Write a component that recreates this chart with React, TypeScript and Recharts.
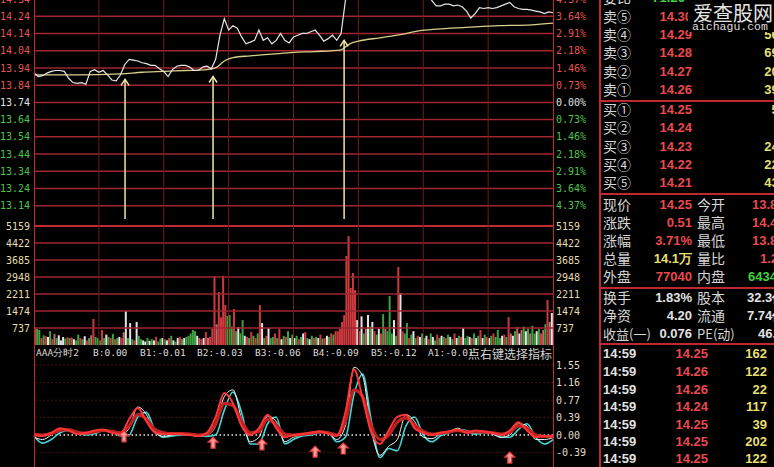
import React from "react";
import { LineChart, Line, BarChart, Bar, Cell, XAxis, YAxis, ReferenceLine, ReferenceDot } from "recharts";

const W = 774;
const H = 467;
const CW = 598; // plot 34 -> 553, right axis 553 -> 598

// ---- 分时价格 (每2分钟一个点, 0..240分钟)
const priceValues = [
  13.91, 13.89, 13.895, 13.91, 13.92, 13.925, 13.925, 13.92, 13.88, 13.855,
  13.85, 13.855, 13.845, 13.92, 13.93, 13.915, 13.925, 13.9, 13.87, 13.865,
  13.9, 13.96, 13.99, 13.985, 13.98, 13.97, 13.965, 13.955, 13.955, 13.935,
  13.92, 13.89, 13.93, 13.95, 13.955, 13.955, 13.945, 13.925, 13.925, 13.945,
  13.95, 13.935, 13.99, 14.13, 14.225, 14.16, 14.185, 14.17, 14.12, 14.08,
  14.09, 14.1, 14.16, 14.1, 14.115, 14.08, 14.1, 14.14, 14.1, 14.085,
  14.12, 14.13, 14.14, 14.14, 14.15, 14.16, 14.13, 14.095, 14.11, 14.13,
  14.1, 14.14, 14.33, 14.45, 14.48, 14.46, 14.5, 14.47, 14.44, 14.46,
  14.45, 14.42, 14.44, 14.43, 14.4, 14.42, 14.41, 14.43, 14.4, 14.39,
  14.38, 14.37, 14.33, 14.3, 14.3, 14.31, 14.31, 14.3, 14.305, 14.295,
  14.27, 14.23, 14.255, 14.29, 14.285, 14.29, 14.285, 14.29, 14.3, 14.31,
  14.32, 14.295, 14.285, 14.28, 14.28, 14.275, 14.27, 14.265, 14.255, 14.265,
  14.26,
];

// ---- 均价线
const avgMinutes = [0, 20, 40, 50, 60, 70, 80, 84, 88, 92, 100, 110, 120, 130, 142, 146, 150, 160, 170, 178, 186, 200, 215, 230, 240];
const avgValues = [13.9, 13.9, 13.905, 13.915, 13.92, 13.925, 13.93, 13.94, 13.98, 14.0, 14.01, 14.02, 14.03, 14.035, 14.045, 14.08, 14.095, 14.115, 14.135, 14.155, 14.165, 14.175, 14.185, 14.19, 14.2];

// ---- 黄色箭头
const arrowMinutes = [42.1, 82.8, 143.4];
const arrowTips = [13.874, 13.89, 14.1];
const arrowBase = 13.063;

const priceTicks = [14.34, 14.24, 14.14, 14.04, 13.94, 13.84, 13.74, 13.64, 13.54, 13.44, 13.34, 13.24, 13.14];
const pctLabels = ["4.37%", "3.64%", "2.91%", "2.18%", "1.46%", "0.73%", "0.00%", "0.73%", "1.46%", "2.18%", "2.91%", "3.64%", "4.37%"];
const prevClose = 13.74;
const gridMinutes = [30, 60, 90, 120, 150, 180, 210];

// ---- 成交量 (每分钟)
const volValues = [
  780, 700, 650, 300, 420, 380, 350, 600, 250, 480,
  300, 420, 200, 350, 280, 330, 300, 320, 250, 200,
  450, 300, 250, 380, 200, 300, 420, 1130, 350, 300,
  200, 650, 300, 450, 350, 300, 480, 250, 300, 350,
  300, 550, 1470, 300, 950, 250, 200, 1000, 400, 250,
  200, 150, 300, 180, 250, 200, 350, 150, 280, 300,
  250, 200, 300, 400, 200, 150, 300, 350, 250, 300,
  350, 400, 500, 650, 600, 400, 300, 250, 300, 560,
  300, 350, 700, 2990, 900, 2300, 1200, 3000, 1730, 1260,
  1300, 800, 1560, 600, 780, 500, 1080, 400, 350, 300,
  560, 400, 300, 500, 1730, 950, 300, 400, 740, 300,
  350, 500, 300, 700, 250, 400, 350, 600, 300, 450,
  300, 400, 250, 350, 500, 560, 300, 250, 400, 300,
  350, 300, 450, 280, 300, 400, 350, 500, 450, 600,
  600, 700, 1000, 1300, 3860, 4720, 2470, 3120, 2380, 1080,
  600, 1240, 500, 700, 1300, 800, 1000, 600, 450, 700,
  500, 1340, 700, 600, 2120, 500, 1080, 400, 3380, 2250,
  600, 500, 950, 300, 450, 600, 300, 400, 350, 500,
  300, 400, 250, 500, 350, 200, 450, 300, 400, 350,
  300, 450, 350, 250, 500, 300, 400, 350, 740, 300,
  400, 350, 300, 500, 300, 400, 650, 300, 450, 350,
  300, 400, 500, 350, 650, 300, 400, 450, 350, 1210,
  500, 400, 600, 780, 500, 650, 800, 600, 700, 500,
  830, 500, 600, 700, 500, 650, 900, 1950, 1000, 1390,
];
const volColors =
  "rggrgrwgrp" + "gwwwgrgrwg" + "grgwrgprgg" + "grgwgrgrgw" + "rpwgwgrwgg" + "wwgwgwrggw" +
  "gwrgwgwrgw" + "gggggwprwr" + "prrrprrrrg" + "ggrgwggwrg" + "rgrgrwgrwg" + "grgrwgrgwg" +
  "wgrgwrgwgr" + "gwrgrwgrgr" + "rrrrrrrrrw" + "rwgpwgwrgw" + "rgpgggwgrw" + "rggrgwgrwg" +
  "gwrgwgrgwg" + "rgwgrwgrwg" + "gwrgwgrwgr" + "wgrgggwrgr" + "pwgpwpgwgp" + "ggwgrpgrpw";
const volTicks = [5159, 4422, 3685, 2948, 2211, 1474, 737];

// ---- 指标 AAA分时2 (每4分钟)
const indRed = [
  0.0, -0.02, 0.05, 0.15, 0.1, 0.02, 0.05, 0.1, 0.12, 0.05,
  0.02, 0.35, 0.6, 0.3, 0.05, 0.02, 0.03, 0.02, 0.0, -0.02,
  0.05, 0.4, 0.93, 0.7, 0.2, 0.0, 0.15, 0.45, 0.15, -0.05,
  0.0, 0.02, 0.05, 0.08, 0.03, -0.02, 0.5, 1.45, 0.8, 0.05,
  -0.2, 0.1, 0.4, 0.45, 0.15, 0.05, 0.0, 0.05, 0.08, 0.12,
  0.05, 0.1, 0.08, 0.05, 0.0, 0.1, 0.28, 0.1, -0.05, -0.02,
  -0.03,
];
const indRed2 = [
  0.02, 0.0, 0.03, 0.1, 0.12, 0.06, 0.04, 0.07, 0.1, 0.08,
  0.05, 0.2, 0.45, 0.35, 0.12, 0.05, 0.03, 0.03, 0.02, 0.0,
  0.02, 0.25, 0.7, 0.65, 0.3, 0.05, 0.08, 0.35, 0.22, 0.02,
  0.0, 0.02, 0.04, 0.07, 0.05, 0.0, 0.3, 1.0, 0.85, 0.2,
  -0.1, 0.0, 0.28, 0.38, 0.22, 0.08, 0.02, 0.04, 0.07, 0.1,
  0.07, 0.07, 0.07, 0.05, 0.02, 0.06, 0.2, 0.15, 0.0, -0.03,
  -0.03,
];
const indWhite = [
  -0.05, -0.1, 0.0, 0.12, 0.13, 0.03, 0.02, 0.08, 0.12, 0.08,
  0.0, 0.15, 0.62, 0.45, 0.05, -0.03, 0.0, 0.02, 0.0, -0.03,
  0.0, 0.2, 0.85, 1.0, 0.35, -0.15, -0.05, 0.42, 0.3, -0.15,
  -0.05, 0.0, 0.03, 0.08, 0.05, -0.1, 0.2, 1.5, 1.3, 0.1,
  -0.45, -0.25, -0.1, 0.45, 0.3, -0.05, -0.08, 0.02, 0.08, 0.15,
  0.05, 0.05, 0.06, 0.02, -0.05, 0.0, 0.25, 0.2, -0.1, -0.1,
  -0.06,
];
const indCyan = [
  -0.02, -0.18, -0.1, 0.05, 0.1, 0.05, 0.0, 0.03, 0.1, 0.08,
  -0.02, 0.0, 0.4, 0.5, 0.1, -0.05, -0.02, 0.0, 0.0, -0.02,
  -0.03, 0.0, 0.55, 0.95, 0.5, -0.2, -0.2, 0.25, 0.4, -0.2,
  -0.1, -0.02, 0.0, 0.05, 0.06, -0.15, -0.05, 0.9, 1.35, 0.3,
  -0.5, -0.3, -0.35, 0.2, 0.4, 0.0, -0.15, -0.02, 0.05, 0.12,
  0.1, 0.02, 0.05, 0.03, -0.05, -0.05, 0.12, 0.25, -0.05, -0.2,
  -0.1,
];
const indTicks = [1.55, 1.16, 0.77, 0.39, 0, -0.39];
const indLabels = ["1.55", "1.16", "0.77", "0.39", "0.00", "-0.39"];
const sigMinutes = [41.6, 82.8, 105.4, 130, 143, 220];
const sigValues = [-0.04, -0.18, -0.22, -0.38, -0.31, -0.51];

const idxLabels = ["AAA分时2", "B:0.00", "B1:-0.01", "B2:-0.03", "B3:-0.06", "B4:-0.09", "B5:-0.12", "A1:-0.01"];
const idxLabelX = [36, 93, 140, 197, 255, 313, 371, 428];

// ---- 右侧盘口
const askLabels = ["卖⑤", "卖④", "卖③", "卖②", "卖①"];
const askPrices = ["14.30", "14.29", "14.28", "14.27", "14.26"];
const askVols = ["48", "563", "692", "201", "391"];
const askY = [17, 35, 53, 72, 90];
const bidLabels = ["买①", "买②", "买③", "买④", "买⑤"];
const bidPrices = ["14.25", "14.24", "14.23", "14.22", "14.21"];
const bidVols = ["52", "8", "245", "223", "431"];
const bidY = [110, 128, 147, 165, 183];

const q1Labels = ["现价", "涨跌", "涨幅", "总量", "外盘"];
const q1Values = ["14.25", "0.51", "3.71%", "14.1万", "77040"];
const q2Labels = ["今开", "最高", "最低", "量比", "内盘"];
const q2Values = ["13.87", "14.43", "13.83", "1.25", "6434"];
const q2X = [752, 752, 752, 760, 748];
const qY = [205, 223, 241, 259, 277];
const q3Labels = ["换手", "净资", "收益(一)"];
const q3Values = ["1.83%", "4.20", "0.076"];
const q4Labels = ["股本", "流通", "PE(动)"];
const q4Values = ["32.3亿", "7.74亿", "46.9"];
const q4X = [747, 747, 758];
const q3Y = [298, 316, 334];

const tradeTimes = ["14:59", "14:59", "14:59", "14:59", "14:59", "14:59", "14:59"];
const tradePrices = ["14.25", "14.26", "14.26", "14.24", "14.25", "14.25", "14.25"];
const tradeVols = ["162", "122", "22", "117", "39", "202", "122"];
const tradeY = [354, 372, 390, 407, 425, 442, 459];

const RED = "#ea4a4e";
const GREEN = "#3fd23f";
const YELLOW = "#e6df72";
const WHITE = "#e2e2e2";
const LABEL = "#d6d6d6";
const GRID = "#a02630";
const VGRID = "#6e1c1c";
const FRAME = "#c0282e";
const MONO = "DejaVu Sans Mono, monospace";
const NUM = "Liberation Sans, Arial, sans-serif";
const CJK = "Noto Sans CJK SC, sans-serif";

const priceRows = priceValues.map((p, i) => ({ t: i * 2, p }));
const avgRows = avgMinutes.map((t, i) => ({ t, p: avgValues[i] }));
const volRows = volValues.map((v, i) => ({ t: i + 0.5, v, c: volColors[i] }));
const indRows = indRed.map((a, i) => ({ t: i * 4, a, b: indRed2[i], w: indWhite[i], c: indCyan[i] }));
const barFill: Record<string, string> = { r: "#d03a3e", p: "#bc6a6c", g: "#3fa240", w: "#e4e4e4" };

const priceColor = (v: number) => (Math.abs(v - prevClose) < 0.005 ? WHITE : v > prevClose ? "#e35552" : "#4cc44c");

const priceTick = (side: "l" | "r") => (props: any) => {
  const { x, y, payload } = props;
  const v = payload.value as number;
  const label = side === "l" ? v.toFixed(2) : pctLabels[priceTicks.indexOf(v)];
  return (
    <text x={x} y={y} dy={3.6} textAnchor={side === "l" ? "end" : "start"} fill={priceColor(v)} fontSize={10} fontFamily={MONO}>
      {label}
    </text>
  );
};

const plainTick = (side: "l" | "r", color: string, labels?: string[], ticks?: number[]) => (props: any) => {
  const { x, y, payload } = props;
  const label = labels && ticks ? labels[ticks.indexOf(payload.value)] : String(payload.value);
  return (
    <text x={x} y={y} dy={3.6} textAnchor={side === "l" ? "end" : "start"} fill={color} fontSize={10} fontFamily={MONO}>
      {label}
    </text>
  );
};

const yellowHead = (props: any) => (
  <path d={`M${props.cx - 4},${props.cy + 6} L${props.cx},${props.cy} L${props.cx + 4},${props.cy + 6}`} stroke="#efe8aa" strokeWidth={1.5} fill="none" />
);

const upArrow = (props: any) => {
  const { cx, cy } = props;
  const d = `M${cx},${cy - 6} L${cx + 5},${cy - 1} L${cx + 2},${cy - 1} L${cx + 2},${cy + 5} L${cx - 2},${cy + 5} L${cx - 2},${cy - 1} L${cx - 5},${cy - 1} Z`;
  return <path d={d} fill="#f29a9a" stroke="#e23a3a" strokeWidth={1.2} />;
};

function Tx(props: { x: number; y: number; c?: string; s?: number; a?: "left" | "right"; f?: string; b?: boolean; children: React.ReactNode }) {
  const { x, y, c = LABEL, s = 13, a = "left", f = NUM, b = false, children } = props;
  const style: React.CSSProperties = {
    position: "absolute",
    top: y - s * 0.62,
    fontSize: s,
    lineHeight: `${Math.round(s * 1.24)}px`,
    color: c,
    fontFamily: f,
    fontWeight: b ? "bold" : "normal",
    whiteSpace: "nowrap",
  };
  if (a === "right") style.right = W - x;
  else style.left = x;
  return <div style={style}>{children}</div>;
}

const abs = (top: number, h: number): React.CSSProperties => ({ position: "absolute", left: 0, top, width: CW, height: h });

export default function App() {
  return (
    <div style={{ position: "fixed", left: 0, top: 0, width: W, height: H, background: "#000", overflow: "hidden" }}>
      {/* 分时图 */}
      <div style={abs(-1, 224)}>
        <LineChart width={CW} height={224} data={priceRows} margin={{ top: 0, right: 0, bottom: 0, left: 0 }}>
          <XAxis dataKey="t" type="number" domain={[0, 240]} hide />
          <YAxis yAxisId="l" orientation="left" width={34} domain={[13.04, 14.34]} ticks={priceTicks} interval={0} allowDataOverflow axisLine={false} tickLine={false} tickSize={0} tickMargin={4} tick={priceTick("l")} />
          <YAxis yAxisId="r" orientation="right" width={45} domain={[13.04, 14.34]} ticks={priceTicks} interval={0} allowDataOverflow axisLine={false} tickLine={false} tickSize={0} tickMargin={3} tick={priceTick("r")} />
          {priceTicks.slice(1).map((v) => (
            <ReferenceLine key={v} yAxisId="l" y={v} stroke={GRID} strokeWidth={1.5} />
          ))}
          {gridMinutes.map((m) => (
            <ReferenceLine key={m} yAxisId="l" x={m} stroke={VGRID} strokeWidth={1} />
          ))}
          <Line yAxisId="l" data={avgRows} dataKey="p" type="monotone" stroke="#d9cf8c" strokeWidth={1.3} dot={false} isAnimationActive={false} />
          <Line yAxisId="l" dataKey="p" type="linear" stroke="#e6e6e6" strokeWidth={1.2} dot={false} isAnimationActive={false} />
          {arrowMinutes.map((m, i) => (
            <ReferenceLine key={"a" + m} yAxisId="l" segment={[{ x: m, y: arrowBase }, { x: m, y: arrowTips[i] }]} stroke="#efe8aa" strokeWidth={1.5} ifOverflow="visible" />
          ))}
          {arrowMinutes.map((m, i) => (
            <ReferenceDot key={"h" + m} yAxisId="l" x={m} y={arrowTips[i]} shape={yellowHead} ifOverflow="visible" />
          ))}
        </LineChart>
      </div>

      {/* 成交量 */}
      <div style={abs(222, 123)}>
        <BarChart width={CW} height={123} data={volRows} margin={{ top: 0, right: 0, bottom: 0, left: 0 }}>
          <XAxis dataKey="t" type="number" domain={[0, 240]} hide />
          <YAxis yAxisId="l" orientation="left" width={34} domain={[0, 5332]} ticks={volTicks} interval={0} allowDataOverflow axisLine={false} tickLine={false} tickSize={0} tickMargin={4} tick={plainTick("l", "#e3dcae")} />
          <YAxis yAxisId="r" orientation="right" width={45} domain={[0, 5332]} ticks={volTicks} interval={0} allowDataOverflow axisLine={false} tickLine={false} tickSize={0} tickMargin={3} tick={plainTick("r", "#e3dcae")} />
          {volTicks.map((v, i) => (
            <ReferenceLine key={v} yAxisId="l" y={v} stroke={i === 0 ? "#c42a34" : GRID} strokeWidth={i === 0 ? 2.2 : 1.5} />
          ))}
          {gridMinutes.map((m) => (
            <ReferenceLine key={m} yAxisId="l" x={m} stroke={VGRID} strokeWidth={1} />
          ))}
          <Bar yAxisId="l" dataKey="v" barSize={2} isAnimationActive={false}>
            {volRows.map((r, i) => (
              <Cell key={i} fill={barFill[r.c]} />
            ))}
          </Bar>
        </BarChart>
      </div>

      {/* 指标标题行 */}
      {idxLabels.map((s, i) => (
        <Tx key={s} x={idxLabelX[i]} y={353} s={9.5} f={MONO} c="#dcdcdc">
          {s}
        </Tx>
      ))}
      <Tx x={468} y={353} s={12} f={CJK} c="#d4d4d4">
        点右键选择指标
      </Tx>

      {/* 指标 */}
      <div style={abs(358, 109)}>
        <LineChart width={CW} height={109} data={indRows} margin={{ top: 0, right: 0, bottom: 0, left: 34 }}>
          <XAxis dataKey="t" type="number" domain={[0, 240]} hide />
          <YAxis yAxisId="r" orientation="right" width={45} domain={[-0.708, 1.704]} ticks={indTicks} interval={0} allowDataOverflow axisLine={false} tickLine={false} tickSize={0} tickMargin={3} tick={plainTick("r", "#e2dcc4", indLabels, indTicks)} />
          {indTicks.map((v) => (
            <ReferenceLine key={v} yAxisId="r" y={v} stroke={v === 0 ? "#e8e8e8" : "#5c1616"} strokeWidth={v === 0 ? 1.5 : 1} strokeDasharray="1.5 2.5" />
          ))}
          <Line yAxisId="r" dataKey="c" type="monotone" stroke="#46d6d6" strokeWidth={1.6} dot={false} isAnimationActive={false} />
          <Line yAxisId="r" dataKey="w" type="monotone" stroke="#f0f0f0" strokeWidth={1} dot={false} isAnimationActive={false} />
          <Line yAxisId="r" dataKey="b" type="monotone" stroke="#c02222" strokeWidth={3.2} dot={false} isAnimationActive={false} />
          <Line yAxisId="r" dataKey="a" type="monotone" stroke="#ff3434" strokeWidth={2} dot={false} isAnimationActive={false} />
          {sigMinutes.map((m, i) => (
            <ReferenceDot key={m} yAxisId="r" x={m} y={sigValues[i]} shape={upArrow} ifOverflow="visible" />
          ))}
        </LineChart>
      </div>

      {/* 边框 */}
      <div style={{ position: "absolute", left: 33.5, top: 0, width: 1.5, height: H, background: FRAME }} />
      <div style={{ position: "absolute", left: 552.5, top: 0, width: 1.5, height: H, background: FRAME }} />
      <div style={{ position: "absolute", left: 599, top: 0, width: 1.5, height: H, background: FRAME }} />
      {[100, 193, 287, 343].map((y) => (
        <div key={y} style={{ position: "absolute", left: 600, top: y, width: W - 600, height: 1.5, background: FRAME }} />
      ))}

      {/* 右侧盘口 */}
      <Tx x={603} y={-2} s={14} f={CJK}>委比</Tx>
      <Tx x={648} y={-2} c={GREEN} b>-71.26</Tx>
      {askLabels.map((l, i) => (
        <React.Fragment key={l}>
          <Tx x={603} y={askY[i]} s={14} f={CJK}>{l}</Tx>
          <Tx x={692} y={askY[i]} a="right" c={RED} b>{askPrices[i]}</Tx>
          <Tx x={786} y={askY[i]} a="right" c={YELLOW} b>{askVols[i]}</Tx>
        </React.Fragment>
      ))}
      {bidLabels.map((l, i) => (
        <React.Fragment key={l}>
          <Tx x={603} y={bidY[i]} s={14} f={CJK}>{l}</Tx>
          <Tx x={692} y={bidY[i]} a="right" c={RED} b>{bidPrices[i]}</Tx>
          <Tx x={786} y={bidY[i]} a="right" c={YELLOW} b>{bidVols[i]}</Tx>
        </React.Fragment>
      ))}
      {q1Labels.map((l, i) => (
        <React.Fragment key={l}>
          <Tx x={603} y={qY[i]} s={14} f={CJK}>{l}</Tx>
          <Tx x={692} y={qY[i]} a="right" c={i === 3 ? YELLOW : RED} b>{q1Values[i]}</Tx>
          <Tx x={697} y={qY[i]} s={14} f={CJK}>{q2Labels[i]}</Tx>
          <Tx x={q2X[i]} y={qY[i]} c={i === 4 ? GREEN : RED} b>{q2Values[i]}</Tx>
        </React.Fragment>
      ))}
      {q3Labels.map((l, i) => (
        <React.Fragment key={l}>
          <Tx x={603} y={q3Y[i]} s={i === 2 ? 13 : 14} f={CJK}>{l}</Tx>
          <Tx x={692} y={q3Y[i]} a="right" c={WHITE} b>{q3Values[i]}</Tx>
          <Tx x={697} y={q3Y[i]} s={i === 2 ? 13 : 14} f={CJK}>{q4Labels[i]}</Tx>
          <Tx x={q4X[i]} y={q3Y[i]} c={WHITE} b>{q4Values[i]}</Tx>
        </React.Fragment>
      ))}
      {tradeTimes.map((t, i) => (
        <React.Fragment key={i}>
          <Tx x={603} y={tradeY[i]} c={WHITE} b>{t}</Tx>
          <Tx x={708} y={tradeY[i]} a="right" c={RED} b>{tradePrices[i]}</Tx>
          <Tx x={767} y={tradeY[i]} a="right" c={YELLOW} b>{tradeVols[i]}</Tx>
        </React.Fragment>
      ))}

      {/* 水印 */}
      <div style={{ position: "absolute", left: 688, top: 0, width: W - 688, height: 32, background: "#000" }} />
      <Tx x={693} y={12} s={20} f={CJK} c="#e4e4e4">爱查股网</Tx>
      <Tx x={692} y={27} s={11.5} f="Liberation Mono, monospace" c="#dedede">aichagu.com</Tx>
    </div>
  );
}
